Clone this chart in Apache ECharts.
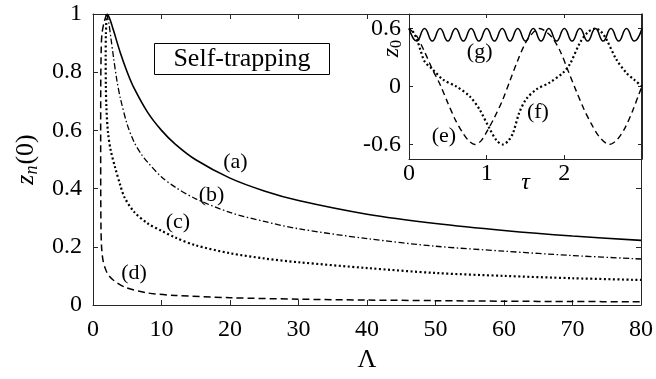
<!DOCTYPE html>
<html>
<head>
<meta charset="utf-8">
<script src="https://cdn.jsdelivr.net/npm/echarts@6/dist/echarts.min.js"></script>
<style>
  html, body { margin: 0; padding: 0; background: #fff; }
  #chart { width: 656px; height: 379px; }
</style>
</head>
<body>
<div id="chart"></div>
<script>
// main panel: z_n(0) against Lambda, curves (a)-(d)
const lamA = [2, 2.2, 2.5, 3, 4, 5, 6, 8, 10, 12, 15, 20, 25, 30, 40, 50, 60, 70, 80];
const zA = [1, 0.996, 0.98, 0.943, 0.866, 0.8, 0.745, 0.661, 0.6, 0.553, 0.499, 0.436, 0.392, 0.359, 0.312, 0.28, 0.256, 0.237, 0.222];

const lamB = [2, 2.3, 2.6, 3, 3.5, 4, 5, 6, 7, 8, 10, 12, 15, 20, 25, 30, 40, 50, 60, 70, 80];
const zB = [1, 0.97, 0.92, 0.85, 0.77, 0.71, 0.62, 0.56, 0.52, 0.49, 0.44, 0.405, 0.365, 0.318, 0.287, 0.262, 0.228, 0.202, 0.185, 0.17, 0.158];

const lamC = [2, 1.88, 1.85, 1.88, 1.95, 2.2, 2.6, 3.2, 4, 4.6, 6, 8, 10, 12, 15, 20, 25, 30, 40, 50, 60, 70, 80];
const zC = [1, 0.93, 0.85, 0.75, 0.68, 0.59, 0.53, 0.475, 0.41, 0.37, 0.32, 0.28, 0.255, 0.232, 0.205, 0.178, 0.16, 0.147, 0.127, 0.11, 0.1, 0.092, 0.086];

const lamD = [2, 1.6, 1.3, 1.2, 1.13, 1.12, 1.13, 1.17, 1.25, 1.45, 1.8, 2.2, 3, 4.6, 7.8, 12, 20, 30, 40, 50, 60, 70, 80];
const zD = [1, 0.97, 0.93, 0.88, 0.75, 0.55, 0.38, 0.26, 0.2, 0.155, 0.125, 0.105, 0.085, 0.062, 0.042, 0.033, 0.025, 0.02, 0.017, 0.015, 0.013, 0.012, 0.011];

// inset: z_0 against tau, curves (e)-(g)
const tauE = [0, 0.1, 0.2, 0.3, 0.4, 0.5, 0.6, 0.7, 0.78, 0.85, 0.93, 1.0, 1.1, 1.2, 1.3, 1.4, 1.5, 1.6, 1.68, 1.76, 1.85, 1.95, 2.05, 2.15, 2.25, 2.35, 2.45, 2.58, 2.68, 2.78, 2.88, 2.96, 3.0];
const zE = [0.6, 0.52, 0.36, 0.18, 0.02, -0.17, -0.35, -0.49, -0.57, -0.6, -0.56, -0.47, -0.32, -0.15, 0.06, 0.27, 0.45, 0.56, 0.6, 0.57, 0.5, 0.36, 0.16, -0.04, -0.23, -0.39, -0.52, -0.6, -0.55, -0.43, -0.25, -0.08, 0.0];

const tauF = [0, 0.05, 0.1, 0.15, 0.2, 0.3, 0.44, 0.61, 0.78, 0.91, 1.04, 1.13, 1.21, 1.28, 1.34, 1.42, 1.51, 1.64, 1.81, 1.98, 2.07, 2.2, 2.3, 2.4, 2.47, 2.54, 2.67, 2.8, 2.9, 3.0];
const zF = [0.6, 0.57, 0.49, 0.37, 0.26, 0.18, 0.07, 0.0, -0.1, -0.24, -0.44, -0.56, -0.6, -0.56, -0.48, -0.27, -0.13, -0.03, 0.04, 0.14, 0.23, 0.45, 0.56, 0.6, 0.57, 0.49, 0.28, 0.14, 0.07, 0.0];

const tauG = [0, 0.1, 0.2, 0.3, 0.4, 0.5, 0.6, 0.7, 0.8, 0.9, 1.0, 1.1, 1.2, 1.3, 1.4, 1.5, 1.6, 1.7, 1.8, 1.9, 2.0, 2.1, 2.2, 2.3, 2.4, 2.5, 2.6, 2.7, 2.8, 2.9, 3.0];
const zG = [0.6, 0.47, 0.6, 0.47, 0.6, 0.47, 0.6, 0.47, 0.6, 0.47, 0.6, 0.47, 0.6, 0.47, 0.6, 0.47, 0.6, 0.47, 0.6, 0.47, 0.6, 0.47, 0.6, 0.47, 0.6, 0.47, 0.6, 0.47, 0.6, 0.47, 0.6];

// curve tags, in data coordinates
const mainTags = ['(a)', '(b)', '(c)', '(d)'];
const mainTagX = [20.8, 17.3, 12.4, 6.0];
const mainTagY = [0.489, 0.376, 0.286, 0.11];
const insetTags = ['(g)', '(f)', '(e)'];
const insetTagX = [0.91, 1.66, 0.45];
const insetTagY = [0.35, -0.27, -0.51];

const serif = 'Liberation Serif';
const axisColor = '#262626';

function zip(xs, ys) {
    return xs.map((x, i) => [x, ys[i]]);
}
function tagData(names, xs, ys) {
    return names.map((n, i) => ({ name: n, value: [xs[i], ys[i]] }));
}

function boxAxis(gridIndex, pos, extra) {
    return Object.assign({
        type: 'value',
        gridIndex: gridIndex,
        position: pos,
        axisLine: { show: true, onZero: false, lineStyle: { color: axisColor, width: 1 } },
        axisTick: { show: true, inside: true, length: 5, lineStyle: { color: axisColor } },
        splitLine: { show: false },
        axisLabel: { show: false }
    }, extra);
}

const tagLabel = {
    show: true, position: 'inside', formatter: '{b}', opacity: 1,
    fontFamily: serif, fontSize: 22, color: '#000', textBorderWidth: 0
};

var myChart = echarts.init(document.getElementById('chart'));

var option = {
    animation: false,
    backgroundColor: '#fff',
    grid: [
        { left: 93, top: 14, right: 14, bottom: 74 },
        { left: 409, top: 14, right: 14, bottom: 220, show: true, backgroundColor: '#fff', borderWidth: 0 }
    ],
    xAxis: [
        boxAxis(0, 'bottom', {
            min: 0, max: 80, interval: 10,
            axisLabel: { show: true, margin: 13, fontFamily: serif, fontSize: 24, color: '#000' },
            name: 'Λ', nameLocation: 'middle', nameGap: 42,
            nameTextStyle: { fontFamily: serif, fontSize: 26, color: '#000' }
        }),
        boxAxis(0, 'top', {
            min: 0, max: 80,
            axisTick: { show: true, inside: true, length: 5, lineStyle: { color: axisColor }, customValues: [10, 20, 30, 40] }
        }),
        boxAxis(1, 'bottom', {
            min: 0, max: 3, interval: 1,
            axisTick: { show: true, inside: true, length: 4, lineStyle: { color: axisColor } },
            axisLabel: { show: true, margin: 3, showMaxLabel: false, fontFamily: serif, fontSize: 24, color: '#000' },
            name: 'τ', nameLocation: 'middle', nameGap: 12, nameMoveOverlap: false,
            nameTextStyle: { fontFamily: serif, fontSize: 24, fontStyle: 'italic', color: '#000' }
        }),
        boxAxis(1, 'top', {
            min: 0, max: 3, interval: 1,
            axisTick: { show: true, inside: true, length: 4, lineStyle: { color: axisColor } }
        })
    ],
    yAxis: [
        boxAxis(0, 'left', {
            min: 0, max: 1, interval: 0.2,
            axisLabel: { show: true, margin: 11, fontFamily: serif, fontSize: 24, color: '#000' },
            name: '{i|z}{s|n}{r|(0)}', nameLocation: 'middle', nameGap: 48, nameRotate: 90,
            nameTextStyle: {
                rich: {
                    i: { fontFamily: serif, fontSize: 26, fontStyle: 'italic', color: '#000' },
                    s: { fontFamily: serif, fontSize: 18, fontStyle: 'italic', color: '#000', verticalAlign: 'bottom', padding: [12, 1, 0, 0] },
                    r: { fontFamily: serif, fontSize: 26, color: '#000' }
                }
            }
        }),
        boxAxis(0, 'right', {
            min: 0, max: 1,
            axisTick: { show: true, inside: true, length: 5, lineStyle: { color: axisColor }, customValues: [0.2, 0.4] }
        }),
        boxAxis(1, 'left', {
            min: -0.75, max: 0.75,
            axisTick: { show: true, inside: true, length: 4, lineStyle: { color: axisColor }, customValues: [-0.6, 0, 0.6] },
            axisLabel: { show: true, margin: 8, fontFamily: serif, fontSize: 24, color: '#000', customValues: [-0.6, 0, 0.6] }
        }),
        boxAxis(1, 'right', {
            min: -0.75, max: 0.75,
            axisTick: { show: true, inside: true, length: 4, lineStyle: { color: axisColor }, customValues: [-0.6, 0, 0.6] }
        })
    ],
    series: [
        {
            name: '(a)', type: 'line', xAxisIndex: 0, yAxisIndex: 0, data: zip(lamA, zA),
            showSymbol: false, smooth: 0.3, lineStyle: { color: '#000', width: 1.6, type: 'solid' }
        },
        {
            name: '(b)', type: 'line', xAxisIndex: 0, yAxisIndex: 0, data: zip(lamB, zB),
            showSymbol: false, smooth: 0.3, lineStyle: { color: '#000', width: 1.3, type: [6, 2.5, 1.5, 2.5] }
        },
        {
            name: '(c)', type: 'line', xAxisIndex: 0, yAxisIndex: 0, data: zip(lamC, zC),
            showSymbol: false, smooth: 0.3, lineStyle: { color: '#000', width: 2.2, type: [2, 2.5] }
        },
        {
            name: '(d)', type: 'line', xAxisIndex: 0, yAxisIndex: 0, data: zip(lamD, zD),
            showSymbol: false, smooth: 0.3, lineStyle: { color: '#000', width: 1.5, type: [7, 4] }
        },
        {
            name: 'tags', type: 'scatter', xAxisIndex: 0, yAxisIndex: 0, symbolSize: 0,
            itemStyle: { color: '#000', opacity: 1 },
            data: tagData(mainTags, mainTagX, mainTagY),
            label: tagLabel
        },
        {
            name: '(e)', type: 'line', xAxisIndex: 2, yAxisIndex: 2, data: zip(tauE, zE),
            showSymbol: false, smooth: 0.3, lineStyle: { color: '#000', width: 1.4, type: [6, 4] }
        },
        {
            name: '(f)', type: 'line', xAxisIndex: 2, yAxisIndex: 2, data: zip(tauF, zF),
            showSymbol: false, smooth: 0.3, lineStyle: { color: '#000', width: 2.2, type: [2, 2.5] }
        },
        {
            name: '(g)', type: 'line', xAxisIndex: 2, yAxisIndex: 2, data: zip(tauG, zG),
            showSymbol: false, smooth: true, lineStyle: { color: '#000', width: 1.5, type: 'solid' }
        },
        {
            name: 'insetTags', type: 'scatter', xAxisIndex: 2, yAxisIndex: 2, symbolSize: 0,
            itemStyle: { color: '#000', opacity: 1 },
            data: tagData(insetTags, insetTagX, insetTagY),
            label: tagLabel
        }
    ],
    graphic: [
        {
            type: 'group', left: 154, top: 43,
            children: [
                { type: 'rect', shape: { x: 0, y: 0, width: 175, height: 31 }, style: { fill: '#fff', stroke: '#000', lineWidth: 1 } },
                { type: 'text', x: 87.5, y: 16, style: { text: 'Self-trapping', font: '26px "Liberation Serif"', fill: '#000', align: 'center', verticalAlign: 'middle' } }
            ]
        },
        {
            type: 'text', left: 380, top: 40, rotation: Math.PI / 2,
            style: { text: '{i|z}{s|0}', rich: {
                i: { fontFamily: serif, fontSize: 24, fontStyle: 'italic', fill: '#000' },
                s: { fontFamily: serif, fontSize: 16, fill: '#000', verticalAlign: 'bottom', padding: [10, 0, 0, 0] }
            } }
        }
    ]
};

option && myChart.setOption(option);
</script>
</body>
</html>
